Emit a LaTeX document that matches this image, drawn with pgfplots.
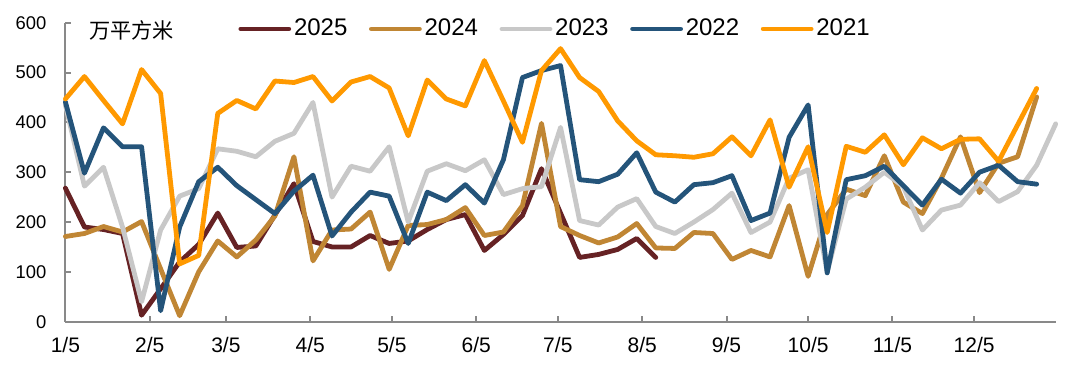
\documentclass[border=0pt]{standalone}
\usepackage{fontspec}
\setmainfont{Liberation Sans}
\newfontfamily\cjk{Noto Sans CJK SC}
\usepackage{pgfplots}
\usepackage{pgfplotstable}
\pgfplotsset{compat=1.18}
\definecolor{c25}{RGB}{102,34,36}
\definecolor{c24}{RGB}{192,134,52}
\definecolor{c23}{RGB}{200,200,200}
\definecolor{c22}{RGB}{36,84,122}
\definecolor{c21}{RGB}{255,153,0}
\definecolor{axgray}{RGB}{137,137,137}

\pgfplotstableread{
i  y25 y24 y23 y22 y21
0  268 171 435 441 447
1  190 177 272 298 492
2  185 191 310 389 444
3  177 180 190 351 397
4  13  201 40  351 506
5  66  106 184 22  458
6  120 12  252 190 116
7  155 100 267 281 133
8  218 162 347 310 418
9  149 130 342 273 444
10 152 164 331 245 427
11 214 212 362 217 483
12 277 331 378 262 480
13 161 122 440 294 492
14 150 184 250 172 443
15 150 186 312 220 481
16 173 220 302 260 492
17 157 105 351 252 469
18 162 193 200 157 373
19 185 195 302 260 485
20 205 205 317 243 447
21 215 229 303 275 433
22 143 173 325 238 524
23 175 180 255 325 443
24 213 233 267 490 360
25 307 398 271 504 504
26 218 191 390 514 548
27 129 173 203 285 490
28 135 158 194 281 462
29 145 170 230 296 403
30 167 197 247 339 363
31 129 148 191 260 335
32 nan 147 177 240 333
33 nan 179 200 275 330
34 nan 177 225 279 337
35 nan 125 258 293 371
36 nan 143 179 203 333
37 nan 130 200 218 405
38 nan 233 288 370 270
39 nan 91  305 435 351
40 nan 215 100 98  179
41 nan 266 246 285 352
42 nan 253 270 293 340
43 nan 333 300 312 375
44 nan 240 271 273 315
45 nan 217 184 234 369
46 nan 288 224 286 347
47 nan 371 234 258 366
48 nan 259 279 300 367
49 nan 318 241 314 322
50 nan 331 261 281 395
51 nan 451 314 276 468
52 nan nan 397 nan nan
}\data

\begin{document}
\begin{tikzpicture}
\useasboundingbox (0,0) rectangle (540pt,183pt);
\begin{axis}[
  at={(32.7pt,22.15pt)}, anchor=south west,
  scale only axis, width=495.15pt, height=149.5pt,
  xmin=0, xmax=52, ymin=0, ymax=600,
  axis lines*=left,
  axis line style={axgray, line width=1pt, -},
  tick style={axgray, line width=1pt},
  major tick length=3pt, tick align=inside,
  xtick={0,4.4286,8.4286,12.857,17.143,21.571,25.857,30.286,34.714,39,43.429,47.714},
  xticklabels={1/5,2/5,3/5,4/5,5/5,6/5,7/5,8/5,9/5,10/5,11/5,12/5},
  ytick={0,100,200,300,400,500,600},
  /pgf/number format/assume math mode=true,
  yticklabel style={font=\fontsize{9.2}{10}\selectfont, xshift=-6pt},
  xticklabel style={font=\fontsize{10.5}{12}\selectfont, yshift=-4.5pt},
  clip=false,
  every axis plot/.append style={line width=2.4pt, line join=round, line cap=round},
  legend columns=5,
  legend style={draw=none, fill=none, inner sep=0pt, at={(0.1743,0.979)}, anchor=west,
    font=\fontsize{12}{13}\selectfont,
    nodes={inner sep=0pt},
    /tikz/every odd column/.append style={column sep=1.4pt},
    /tikz/every even column/.append style={column sep=10.8pt}},
  legend image code/.code={\draw[#1] (0pt,0pt) -- (24pt,0pt);},
]
\addplot[c25, mark=none] table[x=i, y=y25] {\data};
\addlegendentry{2025}
\addplot[c24, mark=none] table[x=i, y=y24] {\data};
\addlegendentry{2024}
\addplot[c23, mark=none] table[x=i, y=y23] {\data};
\addlegendentry{2023}
\addplot[c22, mark=none] table[x=i, y=y22] {\data};
\addlegendentry{2022}
\addplot[c21, mark=none] table[x=i, y=y21] {\data};
\addlegendentry{2021}
\node[font=\cjk\fontsize{10.6}{12}\selectfont, anchor=center] at (axis description cs:0.0667,0.975) {万平方米};
\end{axis}
\end{tikzpicture}
\end{document}
